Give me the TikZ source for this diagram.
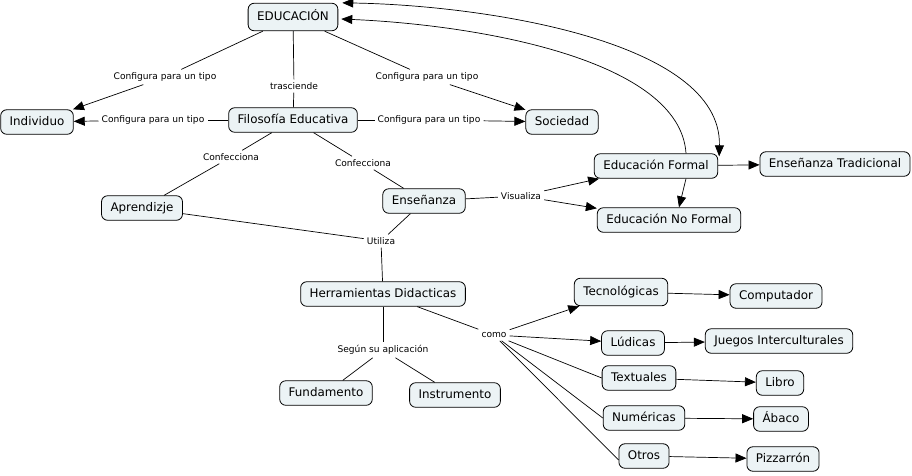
\documentclass[tikz,border=0pt]{standalone}
\usepackage{fontspec}
\setmainfont{DejaVu Sans}
\usetikzlibrary{arrows.meta}
\definecolor{conceptfill}{RGB}{236,243,245}
\begin{document}
\begin{tikzpicture}[x=1pt,y=-1pt,
 concept/.style={draw,line width=0.8pt,rounded corners=6pt,fill=conceptfill,font=\fontsize{11.9}{13}\selectfont,inner xsep=9pt,inner ysep=6.5pt,text height=9pt,text depth=2.5pt},
 linking/.style={font=\fontsize{9.1}{10}\selectfont,inner sep=3pt},
 link/.style={line width=0.7pt},
 linkarrow/.style={line width=0.7pt,-{Triangle[length=11pt,width=9pt]}}]
 \useasboundingbox (0,0) rectangle (912,475);
 \node[concept,inner ysep=8pt] (educacion) at (293,17) {EDUCACIÓN};
 \node[concept] (individuo) at (37,122) {Individuo};
 \node[concept] (filosofia) at (293,120) {Filosofía Educativa};
 \node[concept] (sociedad) at (562,122) {Sociedad};
 \node[concept] (aprendizje) at (142,208) {Aprendizje};
 \node[concept] (ensenanza) at (424,201) {Enseñanza};
 \node[concept] (formal) at (656,166) {Educación Formal};
 \node[concept] (noformal) at (669,220) {Educación No Formal};
 \node[concept] (tradicional) at (835,164) {Enseñanza Tradicional};
 \node[concept] (herramientas) at (383,294) {Herramientas Didacticas};
 \node[concept] (fundamento) at (326,393) {Fundamento};
 \node[concept] (instrumento) at (455,395) {Instrumento};
 \node[concept,inner ysep=8pt] (tecnologicas) at (621,292) {Tecnológicas};
 \node[concept] (computador) at (776,296) {Computador};
 \node[concept] (ludicas) at (633,343) {Lúdicas};
 \node[concept] (juegos) at (779,341) {Juegos Interculturales};
 \node[concept] (textuales) at (639,378) {Textuales};
 \node[concept] (libro) at (780,383) {Libro};
 \node[concept] (numericas) at (644,418) {Numéricas};
 \node[concept] (abaco) at (781,419) {Ábaco};
 \node[concept] (otros) at (644,456) {Otros};
 \node[concept] (pizarron) at (783,459) {Pizzarrón};
 \node[linking] (configIndA) at (165,77) {Configura para un tipo};
 \node[linking] (trasciende) at (294,86) {trasciende};
 \node[linking] (configSocA) at (427,77) {Configura para un tipo};
 \node[linking] (configIndB) at (153,120) {Configura para un tipo};
 \node[linking] (configSocB) at (429,120) {Configura para un tipo};
 \node[linking] (confeccA) at (231,157) {Confecciona};
 \node[linking] (confeccB) at (363,163) {Confecciona};
 \node[linking] (visualiza) at (521,196) {Visualiza};
 \node[linking] (utiliza) at (381,241) {Utiliza};
 \node[linking] (como) at (494,335) {como};
 \node[linking] (segun) at (383,350) {Según su aplicación};
 \draw[link] (educacion) -- (configIndA);
 \draw[linkarrow] (configIndA) -- (individuo);
 \draw[link] (educacion) -- (trasciende);
 \draw[link] (trasciende) -- (filosofia);
 \draw[link] (educacion) -- (configSocA);
 \draw[linkarrow] (configSocA) -- (sociedad);
 \draw[link] (filosofia) -- (configIndB);
 \draw[linkarrow] (configIndB) -- (individuo);
 \draw[link] (filosofia) -- (configSocB);
 \draw[linkarrow] (configSocB) -- (sociedad);
 \draw[link] (filosofia) -- (confeccA);
 \draw[link] (confeccA) -- (aprendizje);
 \draw[link] (filosofia) -- (confeccB);
 \draw[link] (confeccB) -- (ensenanza);
 \draw[link] (aprendizje) -- (utiliza);
 \draw[link] (ensenanza) -- (utiliza);
 \draw[link] (utiliza) -- (herramientas);
 \draw[link] (ensenanza) -- (visualiza);
 \draw[linkarrow] (visualiza) -- (formal);
 \draw[linkarrow] (visualiza) -- (noformal);
 \draw[linkarrow] (formal) -- (tradicional);
 \draw[linkarrow] ([xshift=30pt]formal.south) -- ([xshift=10pt]noformal.north);
 \draw[linkarrow] ([xshift=30pt]formal.north) .. controls (680,60) and (480,25) .. ([xshift=3pt,yshift=-2pt]educacion.east);
 \draw[link,{Triangle[length=11pt,width=9pt]}-{Triangle[length=11pt,width=9pt]}] ([xshift=4pt]educacion.north east) .. controls (480,5) and (722,40) .. ([xshift=1pt,yshift=-3pt]formal.north east);
 \draw[link] (herramientas) -- (segun);
 \draw[link] (segun) -- (fundamento);
 \draw[link] (segun) -- (instrumento);
 \draw[link] (herramientas) -- (como);
 \draw[linkarrow] (como) -- (tecnologicas);
 \draw[linkarrow] (como) -- (ludicas);
 \draw[link] (como) -- (textuales.west);
 \draw[link] (como) -- (numericas.west);
 \draw[link] (como) -- ([yshift=-4pt]otros.west);
 \draw[linkarrow] (tecnologicas) -- (computador);
 \draw[linkarrow] (ludicas) -- (juegos);
 \draw[linkarrow] (textuales) -- (libro);
 \draw[linkarrow] (numericas) -- (abaco);
 \draw[linkarrow] (otros) -- (pizarron);
\end{tikzpicture}
\end{document}
